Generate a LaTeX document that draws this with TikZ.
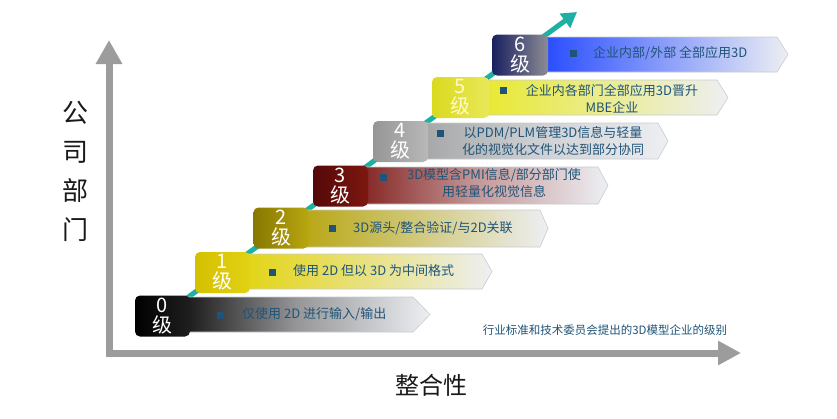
\documentclass[tikz,border=0pt]{standalone}
\usepackage{fontspec}
\setmainfont{Noto Sans CJK SC}
\usetikzlibrary{arrows.meta}
\definecolor{axisgray}{HTML}{9C9C9C}
\definecolor{tealline}{HTML}{1EB0A2}
\definecolor{txtblue}{HTML}{1F5478}
\definecolor{bannerline}{HTML}{C8CCD0}
\definecolor{fadeend}{HTML}{EDEFF3}
\begin{document}
\begin{tikzpicture}[x=1pt,y=-1pt,
  lvlbox/.style={rounded corners=5pt, minimum width=55pt, minimum height=41pt, inner sep=0pt,
    text=white, font=\fontsize{20}{20}\selectfont, align=center},
  banner/.style={draw=bannerline, line width=0.6pt, right color=fadeend},
  btxt/.style={text=txtblue, font=\fontsize{13}{17}\selectfont, align=center, inner sep=0pt},
  bsq/.style={fill=txtblue, minimum size=7pt, inner sep=0pt},
  axis/.style={draw=axisgray, line width=7pt, line join=miter},
  ladder/.style={draw=tealline, line width=5pt}]
\useasboundingbox[fill=white] (0,0) rectangle (837,418);

% axes
\coordinate (origin) at (109,353);
\coordinate (ytop) at (109,40);
\coordinate (xend) at (741,353);
\draw[axis, {Triangle[length=24pt,width=25pt]}-{Triangle[length=23pt,width=23pt]}] (ytop) -- (origin) -- (xend);

\node[font=\fontsize{26}{39}\selectfont, align=center, text=black!90, inner sep=0pt] (ylab) at (75,171) {公\\司\\部\\门};
\node[font=\fontsize{24}{24}\selectfont, text=black!90, inner sep=0pt] (xlab) at (431,385) {整合性};
\node[font=\fontsize{11.5}{12}\selectfont, text=txtblue, inner sep=0pt] (cap) at (605,330) {行业标准和技术委员会提出的3D模型企业的级别};

% coordinates of level boxes
\coordinate (p0) at (162.5,316);
\coordinate (p1) at (222.5,272.5);
\coordinate (p2) at (281,228);
\coordinate (p3) at (340.5,186);
\coordinate (p4) at (400.5,141.5);
\coordinate (p5) at (460.5,97.5);
\coordinate (p6) at (520,55);
\coordinate (tend) at (577,12);

% teal ladder arrow
\draw[ladder, -{Triangle[length=15pt,width=17pt]}] (p0) -- (tend);

% banners
\path[banner, left color=black, middle color={rgb,255:red,150;green,150;blue,152}] (162.5,297) -- (413,297) -- (430,314.5) -- (413,332) -- (162.5,332) -- cycle;
\path[banner, left color={rgb,255:red,226;green,210;blue,0}] (222.5,254) -- (482,254) -- (492,271.5) -- (482,289) -- (222.5,289) -- cycle;
\path[banner, left color={rgb,255:red,180;green,160;blue,0}] (281,210) -- (540,210) -- (548,228.5) -- (540,247) -- (281,247) -- cycle;
\path[banner, left color={rgb,255:red,120;green,16;blue,14}, middle color={rgb,255:red,196;green,150;blue,150}] (340.5,167) -- (598,167) -- (608,185.5) -- (598,204) -- (340.5,204) -- cycle;
\path[banner, left color={rgb,255:red,158;green,158;blue,158}, middle color={rgb,255:red,205;green,207;blue,210}] (400.5,123) -- (658,123) -- (668,141) -- (658,159) -- (400.5,159) -- cycle;
\path[banner, left color={rgb,255:red,232;green,232;blue,30}] (460.5,80) -- (717,80) -- (728,97.5) -- (717,115) -- (460.5,115) -- cycle;
\path[banner, left color={rgb,255:red,20;green,60;blue,255}, middle color={rgb,255:red,130;green,150;blue,250}] (520,37) -- (777,37) -- (788,54.5) -- (777,72) -- (520,72) -- cycle;

% level boxes
\node[lvlbox, left color=black, right color=black!88] (b0) at (p0) {0\\级};
\node[lvlbox, left color={rgb,255:red,212;green,192;blue,0}, right color={rgb,255:red,226;green,210;blue,20}] (b1) at (p1) {1\\级};
\node[lvlbox, left color={rgb,255:red,136;green,120;blue,0}, right color={rgb,255:red,184;green,166;blue,16}] (b2) at (p2) {2\\级};
\node[lvlbox, left color={rgb,255:red,84;green,8;blue,8}, right color={rgb,255:red,124;green,24;blue,16}] (b3) at (p3) {3\\级};
\node[lvlbox, left color={rgb,255:red,150;green,150;blue,150}, right color={rgb,255:red,184;green,184;blue,184}] (b4) at (p4) {4\\级};
\node[lvlbox, minimum width=57pt, text={rgb,255:red,255;green,250;blue,200}, left color={rgb,255:red,218;green,218;blue,30}, right color={rgb,255:red,232;green,232;blue,90}] (b5) at (p5) {5\\级};
\node[lvlbox, minimum width=56pt, left color={rgb,255:red,26;green,32;blue,96}, right color={rgb,255:red,140;green,140;blue,148}] (b6) at (p6) {6\\级};

% banner bullets and texts
\node[bsq] (s0) at (220,315) {};
\node[btxt, anchor=west] (t0) at (242,314) {仅使用 2D 进行输入/输出};
\node[bsq] (s1) at (272,272) {};
\node[btxt, anchor=west] (t1) at (293,271) {使用 2D 但以 3D 为中间格式};
\node[bsq] (s2) at (332,228) {};
\node[btxt, anchor=west] (t2) at (353,228) {3D源头/整合验证/与2D关联};
\node[bsq] (s3) at (383,177) {};
\node[btxt] (t3) at (494,183.5) {3D模型含PMI信息/部分部门使\\用轻量化视觉信息};
\node[bsq] (s4) at (440,133) {};
\node[btxt] (t4) at (553,141.5) {以PDM/PLM管理3D信息与轻量\\化的视觉化文件以达到部分协同};
\node[bsq] (s5) at (503,90) {};
\node[btxt] (t5) at (612,98.5) {企业内各部门全部应用3D晋升\\MBE企业};
\node[bsq] (s6) at (573,53) {};
\node[btxt, anchor=west] (t6) at (593,53) {企业内部/外部 全部应用3D};
\end{tikzpicture}
\end{document}
